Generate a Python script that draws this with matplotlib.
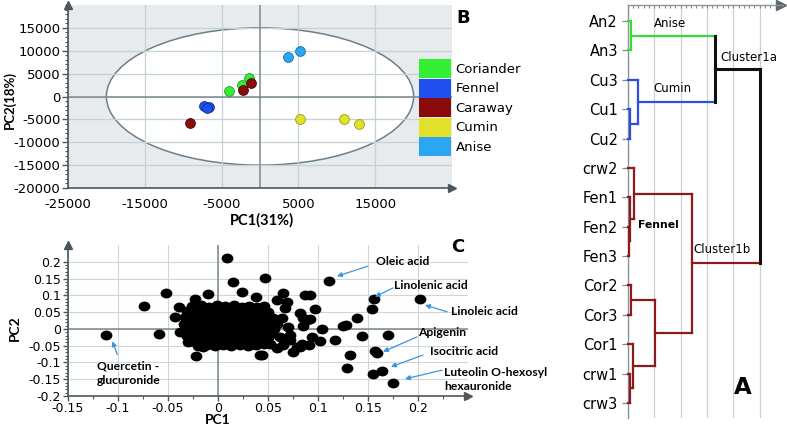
import numpy as np
import matplotlib.pyplot as plt
from matplotlib.patches import Ellipse, Patch
from matplotlib.path import Path

plt.rcParams['font.family'] = ['DejaVu Sans']
plt.rcParams['axes.unicode_minus'] = False

W, H = 787, 430

# ---- panel B: PCA scores ----
groups = ['Coriander', 'Fennel', 'Caraway', 'Cumin', 'Anise']
group_colors = ['#33ee33', '#1f4fee', '#8b0b0b', '#e2e22c', '#2aa6f2']
group_edges = ['#239a23', '#12309a', '#4a0505', '#9a9a10', '#1670b0']
pc1_b = [[-4000, -2300, -1400],
         [-7300, -6600, -6900],
         [-2200, -1200, -9100],
         [5200, 11000, 12900],
         [3600, 5200]]
pc2_b = [[1150, 2500, 4000],
         [-2100, -2300, -2500],
         [1400, 2900, -5800],
         [-4950, -4950, -6050],
         [8600, 9900]]

# ---- panel C: PCA loadings ----
pc_pts = [
    (-0.112, -0.019), (-0.074, 0.068), (-0.052, 0.108), (-0.059, -0.014),
    (0.009, 0.211), (0.015, 0.140), (0.047, 0.152), (-0.022, -0.081),
    (0.044, -0.078), (-0.023, 0.089), (-0.010, 0.105), (-0.039, 0.064),
    (-0.043, 0.036), (-0.038, -0.009), (-0.030, -0.039), (-0.015, -0.054),
    (0.111, 0.143), (0.156, 0.088), (0.154, 0.058), (0.202, 0.088),
    (0.139, 0.031), (0.128, 0.011), (0.125, 0.009), (0.144, -0.021),
    (0.170, -0.019), (0.157, -0.065), (0.159, -0.071), (0.132, -0.078),
    (0.129, -0.116), (0.155, -0.135), (0.164, -0.126), (0.175, -0.161),
    (0.117, -0.032), (0.104, 0.001), (0.102, -0.036), (0.097, 0.058),
    (0.092, 0.100), (0.087, 0.100), (0.082, 0.046), (0.065, 0.107),
    (0.059, 0.087), (0.069, 0.080), (0.067, 0.061), (0.064, 0.031),
    (0.085, 0.031), (0.092, 0.028), (0.085, 0.008), (0.094, -0.024),
    (0.091, -0.049), (0.082, -0.054), (0.075, -0.068), (0.070, 0.006),
    (0.072, -0.019), (0.042, -0.078), (0.024, 0.110), (0.038, 0.095),
    (0.059, 0.014), (0.062, -0.024), (0.072, -0.034), (0.065, -0.049),
    (0.079, -0.054), (0.084, -0.044), (0.052, -0.044), (0.059, -0.058),
    (0.089, 0.026),
    # dense centre
    (-0.026, 0.068), (-0.017, 0.071), (-0.009, 0.066), (-0.001, 0.070), (0.007, 0.067),
    (0.016, 0.072), (0.024, 0.066), (0.031, 0.069), (0.039, 0.064), (0.046, 0.067),
    (-0.031, 0.052), (-0.023, 0.054), (-0.014, 0.050), (-0.006, 0.053), (0.002, 0.051),
    (0.010, 0.055), (0.018, 0.050), (0.027, 0.053), (0.035, 0.049), (0.043, 0.052),
    (0.050, 0.050),
    (-0.033, 0.034), (-0.025, 0.036), (-0.016, 0.032), (-0.008, 0.035), (0.001, 0.033),
    (0.009, 0.036), (0.017, 0.032), (0.025, 0.035), (0.033, 0.031), (0.041, 0.034),
    (0.049, 0.036), (0.055, 0.032),
    (-0.034, 0.016), (-0.026, 0.014), (-0.018, 0.018), (-0.010, 0.015), (-0.002, 0.017),
    (0.006, 0.014), (0.014, 0.018), (0.022, 0.015), (0.030, 0.017), (0.038, 0.013),
    (0.046, 0.016), (0.053, 0.018),
    (-0.033, -0.002), (-0.024, 0.001), (-0.016, -0.004), (-0.007, -0.001), (0.001, -0.003),
    (0.009, 0.000), (0.018, -0.002), (0.026, 0.001), (0.034, -0.004), (0.042, -0.001),
    (0.050, -0.003), (0.056, 0.000),
    (-0.031, -0.020), (-0.022, -0.018), (-0.014, -0.022), (-0.005, -0.019), (0.003, -0.021),
    (0.011, -0.018), (0.020, -0.022), (0.028, -0.019), (0.036, -0.021), (0.044, -0.018),
    (0.051, -0.020),
    (-0.027, -0.036), (-0.019, -0.034), (-0.010, -0.038), (-0.002, -0.035), (0.006, -0.037),
    (0.014, -0.034), (0.023, -0.038), (0.031, -0.035), (0.039, -0.037), (0.047, -0.034),
    (-0.020, -0.050), (-0.011, -0.048), (-0.003, -0.052), (0.005, -0.049), (0.013, -0.051),
    (0.022, -0.048), (0.030, -0.052), (0.038, -0.049),
    (-0.021, 0.061), (-0.005, 0.060), (0.012, 0.061), (0.028, 0.059), (0.042, 0.058),
    (-0.028, 0.043), (-0.011, 0.042), (0.006, 0.044), (0.022, 0.042), (0.038, 0.043),
    (-0.030, 0.025), (-0.013, 0.024), (0.004, 0.026), (0.020, 0.024), (0.036, 0.025),
    (0.051, 0.026), (-0.030, 0.007), (-0.013, 0.006), (0.003, 0.008), (0.020, 0.006),
    (0.036, 0.007), (0.052, 0.008), (-0.028, -0.011), (-0.011, -0.010), (0.005, -0.012),
    (0.022, -0.011), (0.038, -0.010), (0.053, -0.011), (-0.024, -0.028), (-0.008, -0.027),
    (0.008, -0.029), (0.025, -0.027), (0.041, -0.028), (-0.016, -0.043), (0.000, -0.044),
    (0.018, -0.043), (0.034, -0.044), (0.046, -0.046),
]
pc1_c = [p[0] for p in pc_pts]
pc2_c = [p[1] for p in pc_pts]

note_text = ['Quercetin -\nglucuronide', 'Oleic acid', 'Linolenic acid', 'Linoleic acid',
             'Apigenin', 'Isocitric acid', 'Luteolin O-hexosyl\nhexauronide']
note_pos = [(-0.121, -0.133), (0.158, 0.2015), (0.176, 0.130), (0.233, 0.0527),
            (0.200, -0.012), (0.212, -0.068), (0.226, -0.152)]
arrow_tail = [(-0.1007, -0.076), (0.150, 0.187), (0.175, 0.122), (0.229, 0.051),
              (0.199, -0.024), (0.205, -0.078), (0.224, -0.123)]
arrow_tip = [(-0.1057, -0.037), (0.119, 0.157), (0.157, 0.096), (0.207, 0.071),
             (0.165, -0.068), (0.173, -0.113), (0.187, -0.149)]

# ---- panel A: dendrogram ----
leaves = ['An2', 'An3', 'Cu3', 'Cu1', 'Cu2', 'crw2', 'Fen1', 'Fen2', 'Fen3',
          'Cor2', 'Cor3', 'Cor1', 'crw1', 'crw3']
GREEN, BLUE, RED, BLACK = '#38dc38', '#2a4fe4', '#8b1a1a', '#111111'
link_name = ['anise', 'cu12', 'cumin', 'c1a', 'fen23', 'fen123', 'fennel',
             'cor23', 'crw13', 'cor1c', 'corc', 'c1b', 'root']
link_a = ['An2', 'Cu1', 'Cu3', 'anise', 'Fen2', 'Fen1', 'crw2',
          'Cor2', 'crw1', 'Cor1', 'cor23', 'fennel', 'c1a']
link_b = ['An3', 'Cu2', 'cu12', 'cumin', 'Fen3', 'fen23', 'fen123',
          'Cor3', 'crw3', 'crw13', 'cor1c', 'corc', 'c1b']
link_h = [0.11, 0.09, 0.38, 3.30, 0.04, 0.08, 0.24, 0.11, 0.10, 0.20, 1.03, 2.45, 5.00]
link_c = [GREEN, BLUE, BLUE, BLACK, RED, RED, RED, RED, RED, RED, RED, RED, BLACK]


def fr(l, t, r, b):
    return [l / W, 1 - b / H, (r - l) / W, (b - t) / H]


fig = plt.figure(figsize=(W / 100, H / 100), dpi=100)

# ================= B =================
axB = fig.add_axes(fr(68, 5, 452, 188))
axB.set_facecolor('#e7ebed')
axB.set_xlim(-25000, 25000)
axB.set_ylim(-20000, 20000)
axB.add_patch(Ellipse((0, 0), 40000, 30000, facecolor='white',
                      edgecolor='#6e7f87', lw=1.1, zorder=0.2))
axB.set_axisbelow(True)
axB.set_xticks(np.arange(-25000, 20000, 10000))
axB.set_yticks(np.arange(-20000, 20000, 5000))
axB.set_yticks(np.arange(-20000, 20001, 1000), minor=True)
axB.grid(color='#c6d1d7', lw=0.9)
axB.axhline(0, color='#7b888e', lw=1.1, zorder=0.6)
axB.axvline(0, color='#7b888e', lw=1.1, zorder=0.6)
for s in ['top', 'right']:
    axB.spines[s].set_visible(False)
for s in ['left', 'bottom']:
    axB.spines[s].set_color('#4d565b')
    axB.spines[s].set_linewidth(1.2)
axB.tick_params(axis='x', length=0, pad=7, labelsize=9.5)
axB.tick_params(axis='y', which='major', length=4, width=1, color='#4d565b', pad=1.5, labelsize=9.5)
axB.tick_params(axis='y', which='minor', length=2.5, width=0.8, color='#4d565b')
axB.plot(0, 1, marker='^', ms=6, color='#4d565b', transform=axB.transAxes, clip_on=False)
axB.plot(1, 0, marker='>', ms=6, color='#4d565b', transform=axB.transAxes, clip_on=False)
for i in range(len(groups)):
    axB.scatter(pc1_b[i], pc2_b[i], s=50, c=group_colors[i], edgecolors=group_edges[i],
                linewidths=0.6, zorder=3)
handles = [Patch(facecolor=c, edgecolor='none', label=g) for g, c in zip(groups, group_colors)]
axB.legend(handles=handles, loc='upper left', bbox_to_anchor=(419 / W, 1 - 59 / H),
           bbox_transform=fig.transFigure, frameon=False, borderpad=0, borderaxespad=0,
           handlelength=2.42, handleheight=1.84, labelspacing=0.04, handletextpad=0.35,
           fontsize=9.5)
fig.text(10 / W, 1 - 100 / H, 'PC2(18%)', rotation=90, ha='center', va='center',
         family='Lato', fontweight='bold', fontsize=9.5)
fig.text(262 / W, 1 - 220 / H, 'PC1(31%)', ha='center', va='center',
         family='Lato', fontweight='bold', fontsize=10.5)
fig.text(463 / W, 1 - 18 / H, 'B', ha='center', va='center', fontweight='bold', fontsize=13)

# ================= C =================
axC = fig.add_axes(fr(68, 245, 468, 396))
axC.set_xlim(-0.15, 0.25)
axC.set_ylim(-0.2, 0.25)
xt = [-0.15, -0.1, -0.05, 0, 0.05, 0.1, 0.15, 0.2]
yt = [-0.2, -0.15, -0.1, -0.05, 0, 0.05, 0.1, 0.15, 0.2]
axC.set_xticks(xt)
axC.set_xticklabels(['-0.15', '-0.1', '-0.05', '0', '0.05', '0.1', '0.15', '0.2'])
axC.set_yticks(yt)
axC.set_yticklabels(['-0.2', '-0.15', '-0.1', '-0.05', '0', '0.05', '0.1', '0.15', '0.2'])
axC.set_yticks(np.arange(-0.2, 0.2001, 0.01), minor=True)
axC.set_xticks(np.arange(-0.15, 0.2501, 0.025), minor=True)
axC.set_axisbelow(True)
axC.grid(color='#cdd6db', lw=0.8)
axC.axhline(0, color='#7b888e', lw=1.1, zorder=0.6)
axC.axvline(0, color='#7b888e', lw=1.1, zorder=0.6)
for s in ['top', 'right']:
    axC.spines[s].set_visible(False)
for s in ['left', 'bottom']:
    axC.spines[s].set_color('#4d565b')
    axC.spines[s].set_linewidth(1.2)
axC.tick_params(which='major', length=3.5, width=1, color='#4d565b', labelsize=9)
axC.tick_params(which='minor', length=2, width=0.8, color='#4d565b')
axC.tick_params(axis='x', pad=0.8)
axC.tick_params(axis='y', pad=1.5)
axC.plot(0, 1, marker='^', ms=6, color='#4d565b', transform=axC.transAxes, clip_on=False)
axC.plot(1, 0, marker='>', ms=6, color='#4d565b', transform=axC.transAxes, clip_on=False)
circ = Path.unit_circle()
oval = Path(circ.vertices * np.array([1.2, 1.0]), circ.codes)
axC.scatter(pc1_c, pc2_c, s=72, marker=oval, c='black', linewidths=0, zorder=3)
for txt, p, a, b in zip(note_text, note_pos, arrow_tail, arrow_tip):
    axC.text(p[0], p[1], txt, ha='left', va='center', family='Lato', fontweight='bold',
             fontsize=8.7, linespacing=1.35, clip_on=False)
    axC.annotate('', xy=b, xytext=a, annotation_clip=False,
                 arrowprops=dict(arrowstyle='-|>', color='#3a93dc', lw=0.9,
                                 mutation_scale=7, shrinkA=0, shrinkB=0))
fig.text(15 / W, 1 - 328 / H, 'PC2', rotation=90, ha='center', va='center',
         family='Lato', fontweight='bold', fontsize=10)
fig.text(218 / W, 1 - 420 / H, 'PC1', ha='center', va='center',
         family='Lato', fontweight='bold', fontsize=10)
fig.text(458 / W, 1 - 247 / H, 'C', ha='center', va='center', fontweight='bold', fontsize=13)

# ================= A =================
axA = fig.add_axes(fr(627.7, 5, 783, 418))
axA.set_xlim(0, 5.88)
axA.set_ylim(13.51, -0.545)
axA.xaxis.tick_top()
axA.set_xticks(np.arange(0, 6, 1))
axA.set_xticks(np.arange(0, 5.81, 0.2), minor=True)
axA.set_xticklabels([])
axA.tick_params(axis='x', which='both', direction='in', length=2.5, width=0.8, color='#7f8a90')
axA.set_yticks(range(len(leaves)))
axA.set_yticklabels(leaves, fontsize=10.5)
axA.tick_params(axis='y', length=4, width=0.9, color='#7f8a90', pad=3)
axA.grid(axis='x', color='#c9d1d6', lw=0.9)
for s in ['right', 'bottom']:
    axA.spines[s].set_visible(False)
for s in ['left', 'top']:
    axA.spines[s].set_color('#8a959b')
    axA.spines[s].set_linewidth(1)
axA.plot(0.985, 1, marker='>', ms=7, color='#5c666c', transform=axA.transAxes, clip_on=False)

pos = {n: i for i, n in enumerate(leaves)}
hgt = {n: 0.0 for n in leaves}
col = {}
for name, a, b, h, c in zip(link_name, link_a, link_b, link_h, link_c):
    for ch in (a, b):
        cc = col.get(ch, c)
        axA.plot([hgt[ch], h], [pos[ch], pos[ch]], color=cc,
                 lw=2.2 if cc == BLACK else 1.6, clip_on=False, zorder=3)
    axA.plot([h, h], [pos[a], pos[b]], color=c, lw=2.2 if c == BLACK else 1.6,
             clip_on=False, zorder=3)
    pos[name] = (pos[a] + pos[b]) / 2
    hgt[name] = h
    col[name] = c

axA.text(1.6, 0.1, 'Anise', ha='center', va='center', fontsize=8.5)
axA.text(1.68, 2.31, 'Cumin', ha='center', va='center', fontsize=8.5)
axA.text(3.5, 1.23, 'Cluster1a', ha='left', va='center', fontsize=8.5)
axA.text(0.39, 6.94, 'Fennel', ha='left', va='center', fontsize=7.8, fontweight='bold')
axA.text(2.47, 7.76, 'Cluster1b', ha='left', va='center', fontsize=8.5)
fig.text(743 / W, 1 - 387 / H, 'A', ha='center', va='center', fontweight='bold', fontsize=16.5)

fig.savefig('out.png', dpi=100)
